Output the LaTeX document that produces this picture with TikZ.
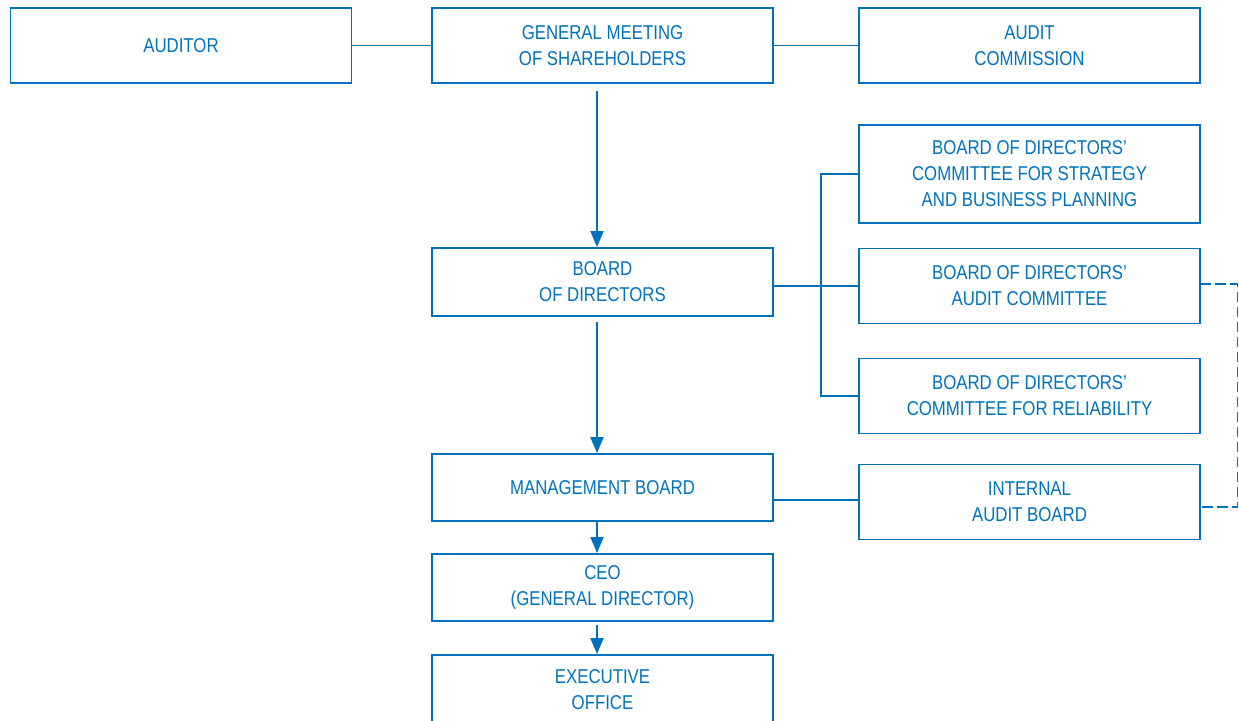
\documentclass[tikz,border=0pt]{standalone}
\usepackage{fontspec}
\setmainfont{Liberation Sans}[FakeStretch=0.84]
\usepackage{xcolor}
\usetikzlibrary{arrows.meta,calc,positioning}
\definecolor{orgblue}{RGB}{0,114,188}
\tikzset{
  every picture/.append style={line cap=rect,line join=miter},
  org box/.style={draw=orgblue,line width=0.95pt,text=orgblue,align=center,
    minimum width=170.5pt,minimum height=37.5pt,inner sep=0pt,
    font=\fontsize{10}{13}\selectfont},
  org link/.style={orgblue,line width=0.95pt},
  org dashed/.style={orgblue,line width=0.95pt,dash pattern=on 4.5pt off 3pt},
  org arrow/.style={orgblue,line width=0.95pt,-{Triangle[length=8pt,width=6.5pt]}}
}

\begin{document}
\begin{tikzpicture}[x=0.5pt,y=-0.5pt]
  \useasboundingbox (0,0) rectangle (1239,720);
  % top row
  \node[org box] (auditor) at (181,45.5) {AUDITOR};
  \node[org box] (meeting) at (602.5,45.5) {GENERAL MEETING\\OF SHAREHOLDERS};
  \node[org box] (commission) at (1029.5,45.5) {AUDIT\\COMMISSION};
  % committees
  \node[org box,minimum height=49pt] (strategy) at (1029.5,174)
    {BOARD OF DIRECTORS’\\COMMITTEE FOR STRATEGY\\AND BUSINESS PLANNING};
  \node[org box] (auditcttee) at (1029.5,286) {BOARD OF DIRECTORS’\\AUDIT COMMITTEE};
  \node[org box] (reliability) at (1029.5,396) {BOARD OF DIRECTORS’\\COMMITTEE FOR RELIABILITY};
  \node[org box] (internal) at (1029.5,502) {INTERNAL\\AUDIT BOARD};
  % main column
  \node[org box,minimum height=34pt] (board) at (602.5,282) {BOARD\\OF DIRECTORS};
  \node[org box,minimum height=33.5pt] (management) at (602.5,487.5) {MANAGEMENT BOARD};
  \node[org box,minimum height=33.5pt] (ceo) at (602.5,587.5) {CEO\\(GENERAL DIRECTOR)};
  \node[org box,minimum height=35pt] (office) at (602.5,690) {EXECUTIVE\\OFFICE};
  \coordinate (trunk) at (821,0);
  \coordinate (loop) at (1237.5,0);

  \draw[org link] (auditor.east) -- (meeting.west);
  \draw[org link] (meeting.east) -- (commission.west);
  \draw[org link] (board.east |- auditcttee.west) -- (auditcttee.west);
  \draw[org link] (strategy.west) -- (strategy.west -| trunk) -- (reliability.west -| trunk) -- (reliability.west);
  \draw[org link] (management.east |- 0,500) -- (internal.west |- 0,500);
  \draw[org dashed] (auditcttee.east |- 0,284) -- (loop |- 0,284) -- (loop |- 0,507) -- (internal.east |- 0,507);

  \draw[org arrow] ([xshift=-2.75pt,yshift=-4pt]meeting.south) -- ([xshift=-2.75pt]board.north);
  \draw[org arrow] ([xshift=-2.75pt,yshift=-3pt]board.south) -- ([xshift=-2.75pt]management.north);
  \draw[org arrow] ([xshift=-2.75pt]management.south) -- ([xshift=-2.75pt]ceo.north);
  \draw[org arrow] ([xshift=-2.75pt,yshift=-2pt]ceo.south) -- ([xshift=-2.75pt]office.north);
\end{tikzpicture}
\end{document}
